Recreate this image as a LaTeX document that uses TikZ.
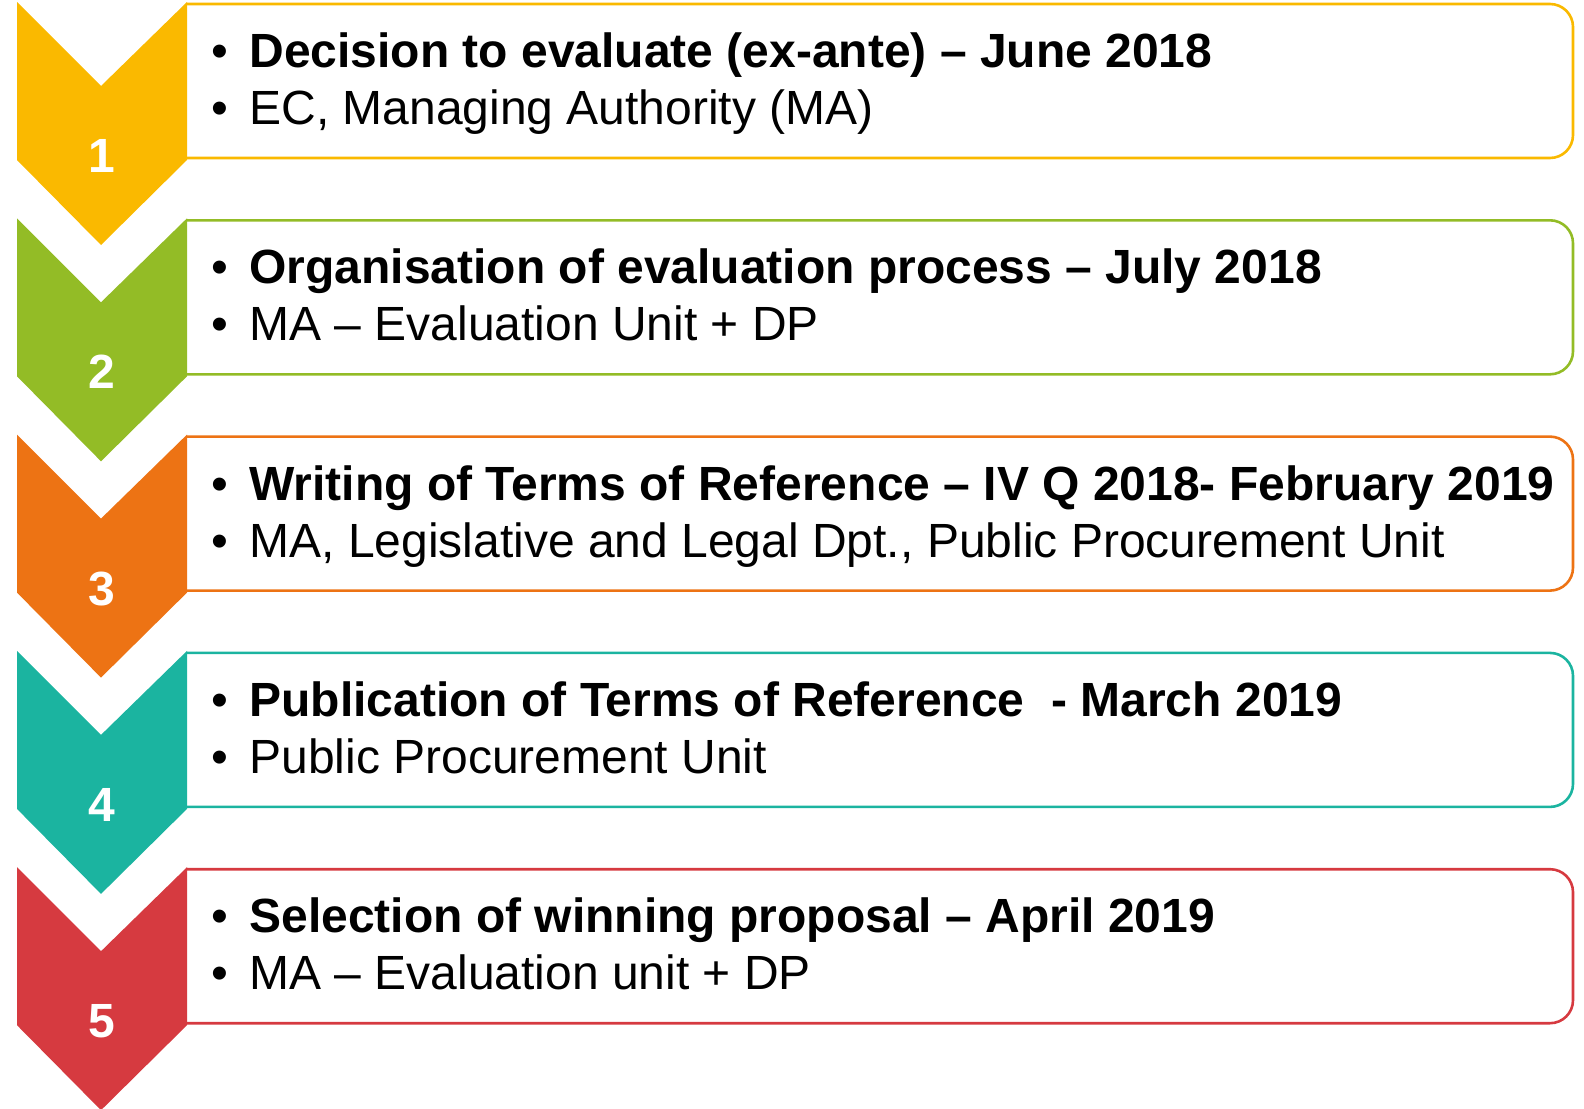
\documentclass[tikz,border=0pt]{standalone}
\usepackage{fontspec}
\setmainfont{Liberation Sans}
\usetikzlibrary{positioning}

\definecolor{phaseyellow}{RGB}{250,185,0}
\definecolor{phasegreen}{RGB}{147,188,38}
\definecolor{phaseorange}{RGB}{237,115,20}
\definecolor{phaseteal}{RGB}{27,180,160}
\definecolor{phasered}{RGB}{214,58,64}

\tikzset{
  phasebox/.style={draw=#1, line width=1.3pt, rounded corners=11.5pt},
  phasenum/.style={anchor=base, text=white, inner sep=0pt, font=\fontsize{24}{29}\selectfont\bfseries},
  headline/.style={anchor=base west, inner sep=0pt, font=\fontsize{24}{29}\selectfont\bfseries},
  subline/.style={anchor=base west, inner sep=0pt, font=\fontsize{24}{29}\selectfont},
  bulletmark/.style={anchor=base, inner sep=0pt, font=\fontsize{24}{29}\selectfont}
}

\begin{document}
\begin{tikzpicture}[x=0.5pt,y=-0.5pt]
\useasboundingbox (0,0) rectangle (1584,1108);

\foreach \i/\col/\head/\sub in {
  1/phaseyellow/{Decision to evaluate (ex-ante) – June 2018}/{EC, Managing Authority (MA)},
  2/phasegreen/{Organisation of evaluation process – July 2018}/{MA – Evaluation Unit + DP},
  3/phaseorange/{Writing of Terms of Reference – IV Q 2018- February 2019}/{MA, Legislative and Legal Dpt., Public Procurement Unit},
  4/phaseteal/{Publication of Terms of Reference~~- March 2019}/{Public Procurement Unit},
  5/phasered/{Selection of winning proposal – April 2019}/{MA – Evaluation unit + DP}} {
  \begin{scope}[shift={(0,{216.3*(\i-1)})}]
    % text box, open on the left behind the chevron
    \draw[phasebox=\col] (187,4) -- (1573,4) -- (1573,158) -- (187,158);
    % chevron
    \fill[\col] (17,2) -- (101,86) -- (187,2) -- (187,160) -- (101,245) -- (17,160) -- cycle;
    \node[phasenum] (num\i) at (102,172.5) {\i};
    \node[bulletmark] (dota\i) at (220,67.5) {•};
    \node[headline] (head\i) at (249,67.5) {\head};
    \node[bulletmark] (dotb\i) at (220,124.5) {•};
    \node[subline] (sub\i) at (249,124.5) {\sub};
  \end{scope}
}
\end{tikzpicture}
\end{document}
